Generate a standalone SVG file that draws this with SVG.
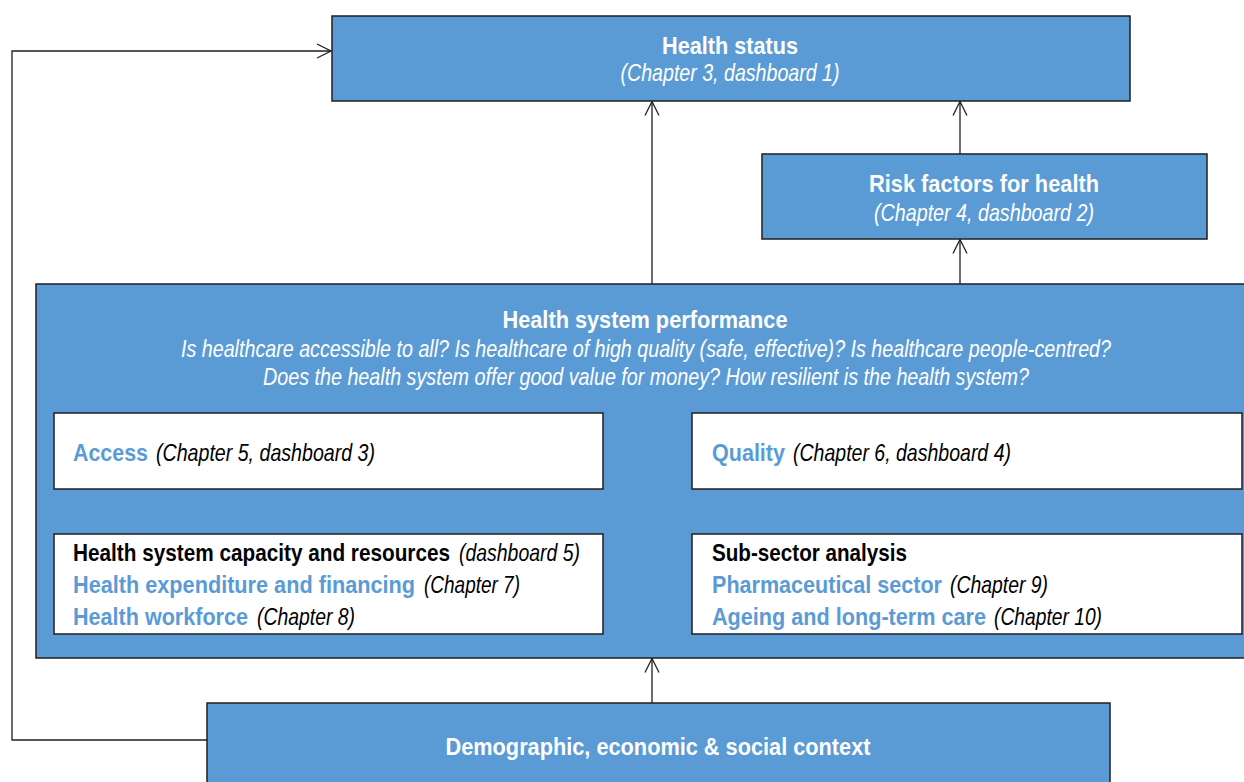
<svg xmlns="http://www.w3.org/2000/svg" width="1244" height="782" viewBox="0 0 1244 782">
<style>
.box{fill:#5B9BD5;stroke:#1f1f1f;stroke-width:1.5}
.wbox{fill:#ffffff;stroke:#1f1f1f;stroke-width:1.5}
text{font-family:"Liberation Sans Narrow","Arial Narrow","Liberation Sans",Arial,sans-serif;font-size:24px}
.tw{fill:#ffffff;font-weight:bold}
.iw{fill:#ffffff;font-style:italic}
.tb{fill:#5B9BD5;font-weight:bold}
.tk{fill:#000000;font-weight:bold}
.ik{fill:#000000;font-style:italic}
.conn{fill:none;stroke:#1f1f1f;stroke-width:1.3}
</style>
<defs>
<marker id="arr" viewBox="0 0 16 16" refX="15" refY="8" markerWidth="16" markerHeight="16" markerUnits="userSpaceOnUse" orient="auto">
<path d="M1,1 L15,8 L1,15" fill="none" stroke="#1f1f1f" stroke-width="1.3"/>
</marker>
</defs>
<g id="connectors">
<polyline class="conn" points="207,740 12,740 12,51 331,51" marker-end="url(#arr)"/>
<line class="conn" x1="652" y1="284" x2="652" y2="101.5" marker-end="url(#arr)"/>
<line class="conn" x1="960" y1="154" x2="960" y2="101.5" marker-end="url(#arr)"/>
<line class="conn" x1="960" y1="284" x2="960" y2="239.5" marker-end="url(#arr)"/>
<line class="conn" x1="652" y1="703" x2="652" y2="658.5" marker-end="url(#arr)"/>
</g>
<g id="health-status">
<rect class="box" x="332" y="16" width="798" height="85"/>
<text class="tw" x="730" y="54" text-anchor="middle" textLength="136" lengthAdjust="spacingAndGlyphs">Health status</text>
<text class="iw" x="730" y="81" text-anchor="middle" textLength="219" lengthAdjust="spacingAndGlyphs">(Chapter 3, dashboard 1)</text>
</g>
<g id="risk-factors">
<rect class="box" x="762" y="154" width="445" height="85"/>
<text class="tw" x="984" y="192" text-anchor="middle" textLength="230" lengthAdjust="spacingAndGlyphs">Risk factors for health</text>
<text class="iw" x="984" y="221" text-anchor="middle" textLength="220" lengthAdjust="spacingAndGlyphs">(Chapter 4, dashboard 2)</text>
</g>
<g id="health-system-performance">
<rect class="box" x="36" y="284" width="1215" height="374"/>
<text class="tw" x="645" y="328" text-anchor="middle" textLength="285" lengthAdjust="spacingAndGlyphs">Health system performance</text>
<text class="iw" x="646" y="357" text-anchor="middle" textLength="930" lengthAdjust="spacingAndGlyphs">Is healthcare accessible to all? Is healthcare of high quality (safe, effective)? Is healthcare people-centred?</text>
<text class="iw" x="646" y="385" text-anchor="middle" textLength="766" lengthAdjust="spacingAndGlyphs">Does the health system offer good value for money? How resilient is the health system?</text>
</g>
<g id="access">
<rect class="wbox" x="54" y="413" width="549" height="76"/>
<text class="tb" x="73" y="461" textLength="75" lengthAdjust="spacingAndGlyphs">Access</text>
<text class="ik" x="156" y="461" textLength="219" lengthAdjust="spacingAndGlyphs">(Chapter 5, dashboard 3)</text>
</g>
<g id="quality">
<rect class="wbox" x="692" y="413" width="550" height="76"/>
<text class="tb" x="712" y="461" textLength="73" lengthAdjust="spacingAndGlyphs">Quality</text>
<text class="ik" x="793" y="461" textLength="218" lengthAdjust="spacingAndGlyphs">(Chapter 6, dashboard 4)</text>
</g>
<g id="capacity">
<rect class="wbox" x="54" y="534" width="549" height="100"/>
<text class="tk" x="73" y="561" textLength="377" lengthAdjust="spacingAndGlyphs">Health system capacity and resources</text>
<text class="ik" x="459" y="561" textLength="121" lengthAdjust="spacingAndGlyphs">(dashboard 5)</text>
<text class="tb" x="73" y="593" textLength="342" lengthAdjust="spacingAndGlyphs">Health expenditure and financing</text>
<text class="ik" x="424" y="593" textLength="96" lengthAdjust="spacingAndGlyphs">(Chapter 7)</text>
<text class="tb" x="73" y="625" textLength="175" lengthAdjust="spacingAndGlyphs">Health workforce</text>
<text class="ik" x="257" y="625" textLength="98" lengthAdjust="spacingAndGlyphs">(Chapter 8)</text>
</g>
<g id="sub-sector">
<rect class="wbox" x="692" y="534" width="550" height="100"/>
<text class="tk" x="712" y="561" textLength="195" lengthAdjust="spacingAndGlyphs">Sub-sector analysis</text>
<text class="tb" x="712" y="593" textLength="230" lengthAdjust="spacingAndGlyphs">Pharmaceutical sector</text>
<text class="ik" x="950" y="593" textLength="98" lengthAdjust="spacingAndGlyphs">(Chapter 9)</text>
<text class="tb" x="712" y="625" textLength="274" lengthAdjust="spacingAndGlyphs">Ageing and long-term care</text>
<text class="ik" x="994" y="625" textLength="108" lengthAdjust="spacingAndGlyphs">(Chapter 10)</text>
</g>
<g id="context">
<rect class="box" x="207" y="703" width="903" height="100"/>
<text class="tw" x="658" y="755" text-anchor="middle" textLength="425" lengthAdjust="spacingAndGlyphs">Demographic, economic &amp; social context</text>
</g>
</svg>
